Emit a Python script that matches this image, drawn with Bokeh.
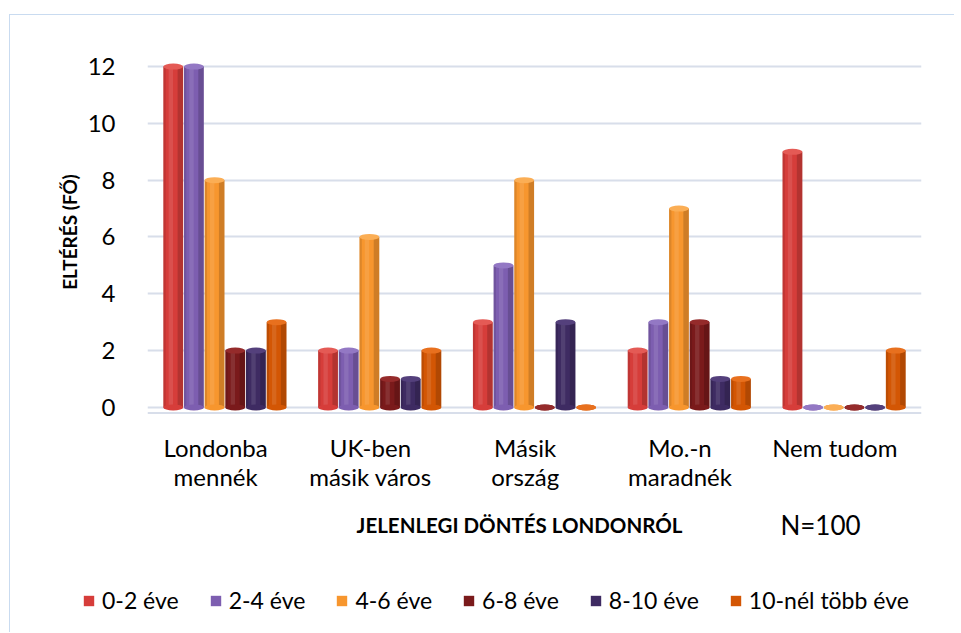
from bokeh.plotting import figure
from bokeh.models import Range1d, FixedTicker, Legend, LegendItem, Span, Label, Spacer
from bokeh.layouts import column, row
from bokeh.embed import file_html
from bokeh.resources import INLINE

# ---- data ----
categories = ["Londonba mennék", "UK-ben másik város", "Másik ország", "Mo.-n maradnék", "Nem tudom"]
category_labels = ["Londonba\nmennék", "UK-ben\nmásik város", "Másik\nország", "Mo.-n\nmaradnék", "Nem tudom"]
series = ["0-2 éve", "2-4 éve", "4-6 éve", "6-8 éve", "8-10 éve", "10-nél több éve"]
v_0_2 = [12, 2, 3, 2, 9]
v_2_4 = [12, 2, 5, 3, 0]
v_4_6 = [8, 6, 8, 7, 0]
v_6_8 = [2, 1, 0, 3, 0]
v_8_10 = [2, 1, 3, 1, 0]
v_10p = [3, 2, 0, 1, 2]
y_ticks = [0, 2, 4, 6, 8, 10, 12]
x_title = "JELENLEGI DÖNTÉS LONDONRÓL"
y_title = "ELTÉRÉS (FŐ)"
note = "N=100"

series_values = [v_0_2, v_2_4, v_4_6, v_6_8, v_8_10, v_10p]
colors = ["#d63d3a", "#7d5eb0", "#f7962e", "#7a1a1b", "#3e2b62", "#d35604"]
tops = ["#e45a55", "#9378c4", "#fbae55", "#952b2b", "#54407c", "#e8701e"]

FONT = "Lato"
step = 0.1335
bw = 0.128
label_shift = -0.06
W = 944
H1 = 485
H2 = 132
NAN = float("nan")


def no_align(fig):
    if "frame_align" in fig.properties():
        fig.frame_align = False


# ---------------- main chart ----------------
p = figure(width=W, height=H1, x_range=Range1d(-0.5, 4.5), y_range=Range1d(-0.25, 12.6),
           output_backend="svg", toolbar_location=None,
           min_border_left=137, min_border_right=33, min_border_top=34, min_border_bottom=86)
no_align(p)
p.outline_line_color = None
p.background_fill_color = "white"
p.border_fill_color = "white"

p.xgrid.visible = False
p.ygrid.ticker = FixedTicker(ticks=y_ticks)
p.ygrid.grid_line_color = "#d8deea"
p.ygrid.grid_line_width = 2

p.add_layout(Span(location=-0.2, dimension="width", line_color="#d8deea", line_width=2))

ax = p.yaxis[0]
ax.ticker = FixedTicker(ticks=y_ticks)
ax.axis_line_color = None
ax.major_tick_line_color = None
ax.minor_tick_line_color = None
ax.major_tick_out = 0
ax.major_tick_in = 0
ax.major_label_standoff = 32
ax.major_label_text_font = FONT
ax.major_label_text_font_size = "24px"
ax.major_label_text_color = "#000000"
ax.axis_label = y_title
ax.axis_label_text_font = FONT
ax.axis_label_text_font_style = "bold"
ax.axis_label_text_font_size = "19px"
ax.axis_label_text_color = "#000000"
ax.axis_label_standoff = 4

xa = p.xaxis[0]
xticks = [i + label_shift for i in range(len(categories))]
xa.ticker = FixedTicker(ticks=xticks)
xa.major_label_overrides = {t: lab for t, lab in zip(xticks, category_labels)}
xa.axis_line_color = None
xa.major_tick_line_color = None
xa.minor_tick_line_color = None
xa.major_tick_out = 0
xa.major_tick_in = 0
xa.major_label_standoff = 18
xa.major_label_text_font = FONT
xa.major_label_text_font_size = "24px"
xa.major_label_text_color = "#000000"
xa.major_label_text_line_height = 1.0

for j, (vals, c, tc) in enumerate(zip(series_values, colors, tops)):
    xs = [i + (j - 2.5) * step for i in range(len(categories))]
    zeros = [0] * len(vals)
    p.vbar(x=xs, top=vals, bottom=0, width=bw, fill_color=c, line_color=None)
    p.vbar(x=[x + bw * 0.36 for x in xs], top=vals, bottom=0, width=bw * 0.28,
           fill_color="black", fill_alpha=0.16, line_color=None)
    p.vbar(x=[x - bw * 0.44 for x in xs], top=vals, bottom=0, width=bw * 0.12,
           fill_color="black", fill_alpha=0.10, line_color=None)
    p.vbar(x=[x - bw * 0.12 for x in xs], top=vals, bottom=0, width=bw * 0.22,
           fill_color="white", fill_alpha=0.10, line_color=None)
    p.ellipse(x=xs, y=zeros, width=bw, height=6, height_units="screen",
              fill_color=c, line_color=None)
    p.ellipse(x=xs, y=vals, width=bw, height=6, height_units="screen",
              fill_color=tc, line_color=None)

# ---------------- footer: axis title, N, legend ----------------
f = figure(width=W, height=H2, x_range=Range1d(0, 1), y_range=Range1d(0, 1),
           output_backend="svg", toolbar_location=None,
           x_axis_type=None, y_axis_type=None, min_border=0)
no_align(f)
f.outline_line_color = None
f.xgrid.visible = False
f.ygrid.visible = False
f.border_fill_color = "white"
f.background_fill_color = "white"

f.add_layout(Label(x=509, y=108, x_units="screen", y_units="screen", text=x_title,
                   text_align="center", text_baseline="middle", text_font=FONT,
                   text_font_style="bold", text_font_size="20.5px", text_color="#000000"))
f.add_layout(Label(x=810, y=108, x_units="screen", y_units="screen", text=note,
                   text_align="center", text_baseline="middle", text_font=FONT,
                   text_font_size="26px", text_color="#000000"))

items = []
for name, c in zip(series, colors):
    # legend proxy renderer (no visible mark)
    lr = f.vbar(x=[NAN], top=[NAN], width=0.01, fill_color=c, line_color=None)
    items.append(LegendItem(label=name, renderers=[lr]))

legend = Legend(items=items, orientation="horizontal", location=(72, 18),
                glyph_width=13, glyph_height=13, label_standoff=7, spacing=30,
                padding=0, margin=0, border_line_color=None, background_fill_alpha=0,
                label_text_font=FONT, label_text_font_size="23px", label_text_color="#000000")
f.add_layout(legend)

inner = column(p, f, spacing=0)
inner.styles = {"border-left": "1px solid #c9dbf0", "border-top": "1px solid #c9dbf0"}
page = row(Spacer(width=9, height=10), column(Spacer(width=10, height=14), inner, spacing=0), spacing=0)

open("out.html", "w").write(file_html(page, INLINE))
